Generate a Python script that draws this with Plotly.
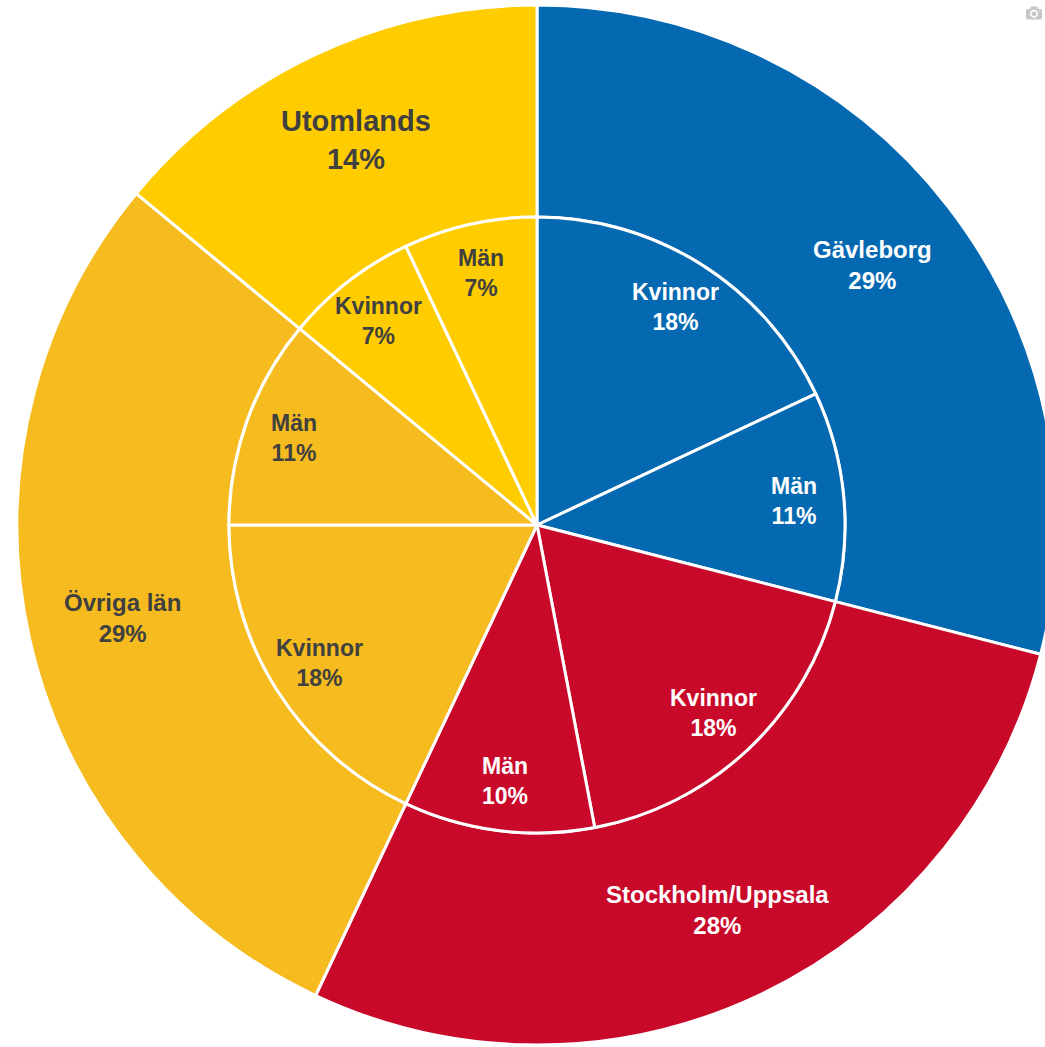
import math
import plotly.graph_objects as go

# Data
regions = ["Gävleborg", "Stockholm/Uppsala", "Övriga län", "Utomlands"]
region_values = [29, 28, 29, 14]
region_colors = ["#0569B2", "#C8092A", "#F5BB1F", "#FFCC00"]
region_text_colors = ["#FFFFFF", "#FFFFFF", "#404040", "#404040"]
region_font_sizes = [24, 24, 24, 29]

sub_parents = ["Gävleborg", "Gävleborg", "Stockholm/Uppsala", "Stockholm/Uppsala",
               "Övriga län", "Övriga län", "Utomlands", "Utomlands"]
sub_labels = ["Kvinnor", "Män", "Kvinnor", "Män", "Kvinnor", "Män", "Kvinnor", "Män"]
sub_values = [18, 11, 18, 10, 18, 11, 7, 7]

color_of = dict(zip(regions, region_colors))
tcolor_of = dict(zip(regions, region_text_colors))

W, H = 1080, 1047
cx, cy, R = 537, 525, 520
r_inner = 308
r_lab_outer = 425
r_lab_inner = 258
FONT = "Liberation Sans, Arial, sans-serif"

dom_x = [(cx - R) / W, (cx + R) / W]
dom_y = [(H - (cy + R)) / H, (H - (cy - R)) / H]

fig = go.Figure()

fig.add_trace(go.Pie(
    labels=regions,
    values=region_values,
    textinfo="none",
    hole=r_inner / R,
    sort=False,
    direction="clockwise",
    rotation=0,
    marker=dict(colors=region_colors, line=dict(color="white", width=3)),
    domain=dict(x=dom_x, y=dom_y),
    showlegend=False,
))

ix0 = (cx - r_inner) / W
ix1 = (cx + r_inner) / W
iy0 = (H - (cy + r_inner)) / H
iy1 = (H - (cy - r_inner)) / H

fig.add_trace(go.Pie(
    labels=[f"{p} {l}" for p, l in zip(sub_parents, sub_labels)],
    values=sub_values,
    textinfo="none",
    sort=False,
    direction="clockwise",
    rotation=0,
    marker=dict(colors=[color_of[p] for p in sub_parents],
                line=dict(color="white", width=3)),
    domain=dict(x=[ix0, ix1], y=[iy0, iy1]),
    showlegend=False,
))


def mid_angles(values):
    total = sum(values)
    out, acc = [], 0
    for v in values:
        out.append((acc + v / 2) / total * 360)
        acc += v
    return out


def add_labels(texts, values, radius, colors, sizes):
    for t, a, c, s in zip(texts, mid_angles(values), colors, sizes):
        th = math.radians(a)
        px = cx + radius * math.sin(th)
        py = cy - radius * math.cos(th)
        fig.add_annotation(
            x=px / W, y=1 - py / H, xref="paper", yref="paper",
            text=t, showarrow=False, xanchor="center", yanchor="middle",
            align="center",
            font=dict(family=FONT, size=s, color=c, weight="bold"),
        )


add_labels([f"{r}<br>{v}%" for r, v in zip(regions, region_values)],
           region_values, r_lab_outer, region_text_colors, region_font_sizes)
add_labels([f"{l}<br>{v}%" for l, v in zip(sub_labels, sub_values)],
           sub_values, r_lab_inner, [tcolor_of[p] for p in sub_parents],
           [23] * len(sub_values))

fig.update_layout(
    width=W, height=H,
    margin=dict(l=0, r=0, t=0, b=0),
    paper_bgcolor="white",
    plot_bgcolor="white",
)

fig.write_html("out.html",
               post_script="document.body.style.margin='0';document.body.style.overflow='hidden';document.documentElement.style.overflow='hidden';")
